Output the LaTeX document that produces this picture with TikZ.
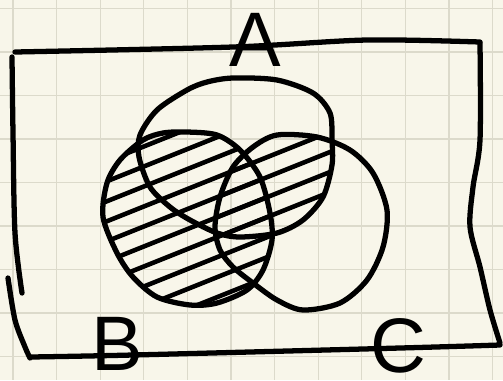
\documentclass[tikz,border=0pt]{standalone}
\usepackage{fontspec}
\setmainfont{Liberation Sans}
\definecolor{paper}{HTML}{F8F6EA}
\definecolor{gridgray}{HTML}{DCDACB}

\begin{document}
\begin{tikzpicture}[x=0.02cm, y=-0.02cm,
  outline/.style={line width=3pt, line cap=round, line join=round},
  hatch/.style={line width=2.6pt, line cap=round},
  gridline/.style={gridgray, line width=0.7pt},
  setlabel/.style={inner sep=0pt, font=\fontsize{44}{44}\selectfont}
]
% Paper and grid
\fill[paper] (0,0) rectangle (503,380);
\useasboundingbox (0,0) rectangle (503,380);
\foreach \gx in {0,...,11} \draw[gridline] ({13+43.6*\gx},0) -- ({13+43.6*\gx},380);
\foreach \gy in {0,...,8} \draw[gridline] (0,{8.5+43.5*\gy}) -- (503,{8.5+43.5*\gy});

% Set contours
\path[save path=\setA] plot[smooth cycle] coordinates {(233,78) (277,80) (313,93) (330,113) (332,140) (332,165) (323,197) (303,220) (277,233) (240,237) (217,233) (190,220) (170,207) (150,187) (139,157) (140,135) (157,110) (187,90) (207,82)};
\path[save path=\setB] plot[smooth cycle] coordinates {(187,132) (217,135) (240,150) (260,177) (270,213) (272,240) (263,270) (247,290) (217,303) (190,305) (157,297) (133,277) (117,253) (103,217) (107,183) (120,160) (143,140) (163,133)};
\path[save path=\setC] plot[smooth cycle] coordinates {(277,135) (317,137) (350,150) (373,173) (387,210) (383,247) (367,280) (340,303) (303,310) (277,300) (253,283) (233,267) (220,250) (215,227) (220,197) (233,167) (253,147)};

% Hatching: B
\begin{scope}
\clip[use path=\setB];
\foreach \c in {124,144,...,484} \draw[hatch] (90,{\c-36}) -- (400,{\c-160});
\end{scope}
% Hatching: A and C
\begin{scope}
\clip[use path=\setA];
\clip[use path=\setC];
\foreach \c in {124,144,...,484} \draw[hatch] (90,{\c-36}) -- (400,{\c-160});
\end{scope}

% Circles
\draw[outline, use path=\setA];
\draw[outline, use path=\setB];
\draw[outline, use path=\setC];

% Universe box
\draw[outline] plot[smooth] coordinates {(15,52) (233,47) (367,40) (480,42)};
\draw[outline] plot[smooth] coordinates {(480,43) (480,140) (473,187) (470,227) (480,267) (490,310) (500,343)};
\draw[outline] plot[smooth] coordinates {(500,345) (400,348) (133,355) (30,357)};
\draw[outline] plot[smooth] coordinates {(12,57) (13,133) (15,233) (22,293)};
\draw[outline] plot[smooth] coordinates {(8,278) (15,320) (25,347) (30,358)};

% Labels
\node[setlabel] (labA) at (255,40) {A};
\node[setlabel] (labB) at (117,344) {B};
\node[setlabel] (labC) at (398,346) {C};
\end{tikzpicture}
\end{document}
